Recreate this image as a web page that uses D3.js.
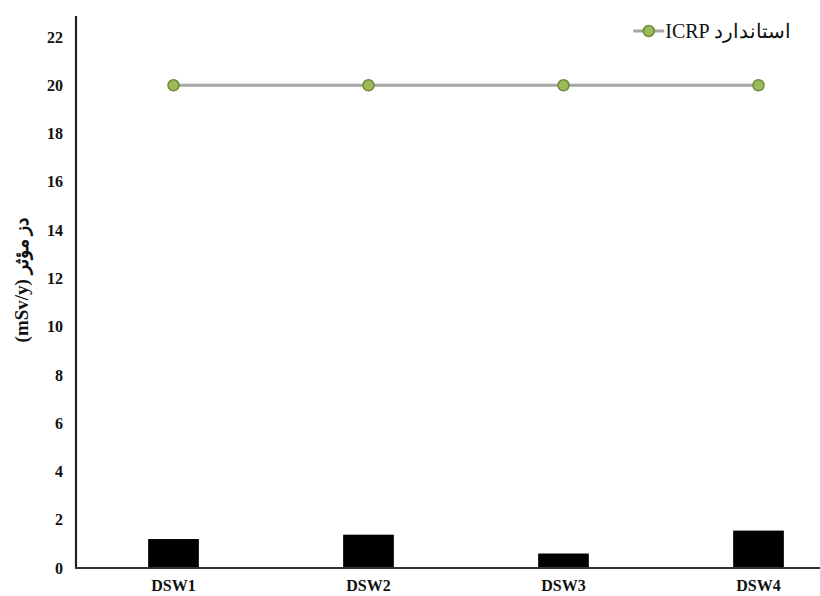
<!DOCTYPE html>
<html>
<head>
<meta charset="utf-8">
<script src="https://cdn.jsdelivr.net/npm/d3@7"></script>
<style>
  html, body { margin: 0; padding: 0; background: #fff; }
  svg { display: block; }
  text { font-family: "Liberation Serif", "Times New Roman", serif; font-weight: bold; fill: #111; }
</style>
</head>
<body>
<svg id="chart" width="820" height="596"></svg>
<script>
const categories = ["DSW1", "DSW2", "DSW3", "DSW4"];
const doseValues = [1.2, 1.38, 0.6, 1.55];
const icrpValues = [20, 20, 20, 20];
const yTicks = [0, 2, 4, 6, 8, 10, 12, 14, 16, 18, 20, 22];
const legendLabel = "ICRP استاندارد";
const yAxisLabel = "دز مؤثر (mSv/y)";

const W = 820, H = 596;
const svg = d3.select("#chart");

const x = d3.scaleBand().domain(categories).range([76, 856]).paddingInner(0.74).paddingOuter(0.37);
const y = d3.scaleLinear().domain([0, 22]).range([568, 37]);

// bars
svg.append("g").selectAll("rect").data(categories).join("rect")
  .attr("x", d => x(d))
  .attr("width", x.bandwidth())
  .attr("y", (d, i) => y(doseValues[i]))
  .attr("height", (d, i) => y(0) - y(doseValues[i]))
  .attr("fill", "#000");

// y axis
const yAxis = d3.axisLeft(y).tickValues(yTicks).tickSize(0).tickPadding(13);
const gy = svg.append("g").attr("transform", "translate(76,0)").call(yAxis);
gy.attr("font-family", null);
gy.select(".domain").remove();
gy.selectAll("text").style("font-size", "16px").style("font-family", "'Liberation Serif', serif").style("font-weight", "bold").attr("fill", "#222");
svg.append("line").attr("x1", 76).attr("x2", 76).attr("y1", 16).attr("y2", 568.5)
  .attr("stroke", "#222").attr("stroke-width", 2.2);

// x axis
const xAxis = d3.axisBottom(x).tickSize(0).tickPadding(12);
const gx = svg.append("g").attr("transform", "translate(0,568)").call(xAxis);
gx.attr("font-family", null);
gx.select(".domain").remove();
gx.selectAll("text").style("font-size", "16px").style("font-family", "'Liberation Serif', serif").style("font-weight", "bold").attr("fill", "#222");
svg.append("line").attr("x1", 75).attr("x2", W).attr("y1", 568).attr("y2", 568)
  .attr("stroke", "#333").attr("stroke-width", 1.8);

// ICRP line
const cx = d => x(d) + x.bandwidth() / 2;
const line = d3.line().x((d, i) => cx(categories[i])).y(d => y(d));
svg.append("path").datum(icrpValues).attr("d", line)
  .attr("fill", "none").attr("stroke", "#a6a6a6").attr("stroke-width", 3);
svg.append("g").selectAll("circle").data(icrpValues).join("circle")
  .attr("cx", (d, i) => cx(categories[i]))
  .attr("cy", d => y(d))
  .attr("r", 5.5)
  .attr("fill", "#9bbb59").attr("stroke", "#6f8a3a").attr("stroke-width", 1.5);

// legend
const lg = svg.append("g");
const lt = lg.append("text").attr("x", 791).attr("y", 38).attr("text-anchor", "end")
  .style("font-size", "20px").style("font-weight", "normal").attr("fill", "#111")
  .text(legendLabel);
const bb = lt.node().getBBox();
const lx1 = bb.x - 32, lx2 = bb.x - 1;
lg.append("line").attr("x1", lx1).attr("x2", lx2).attr("y1", 31).attr("y2", 31)
  .attr("stroke", "#a6a6a6").attr("stroke-width", 3);
lg.append("circle").attr("cx", (lx1 + lx2) / 2).attr("cy", 31).attr("r", 5.5)
  .attr("fill", "#9bbb59").attr("stroke", "#6f8a3a").attr("stroke-width", 1.5);

// y label
svg.append("text").attr("transform", "translate(28,280) rotate(-90)")
  .attr("text-anchor", "middle").attr("direction", "rtl")
  .style("font-size", "19px").attr("fill", "#111")
  .text(yAxisLabel);
</script>
</body>
</html>
